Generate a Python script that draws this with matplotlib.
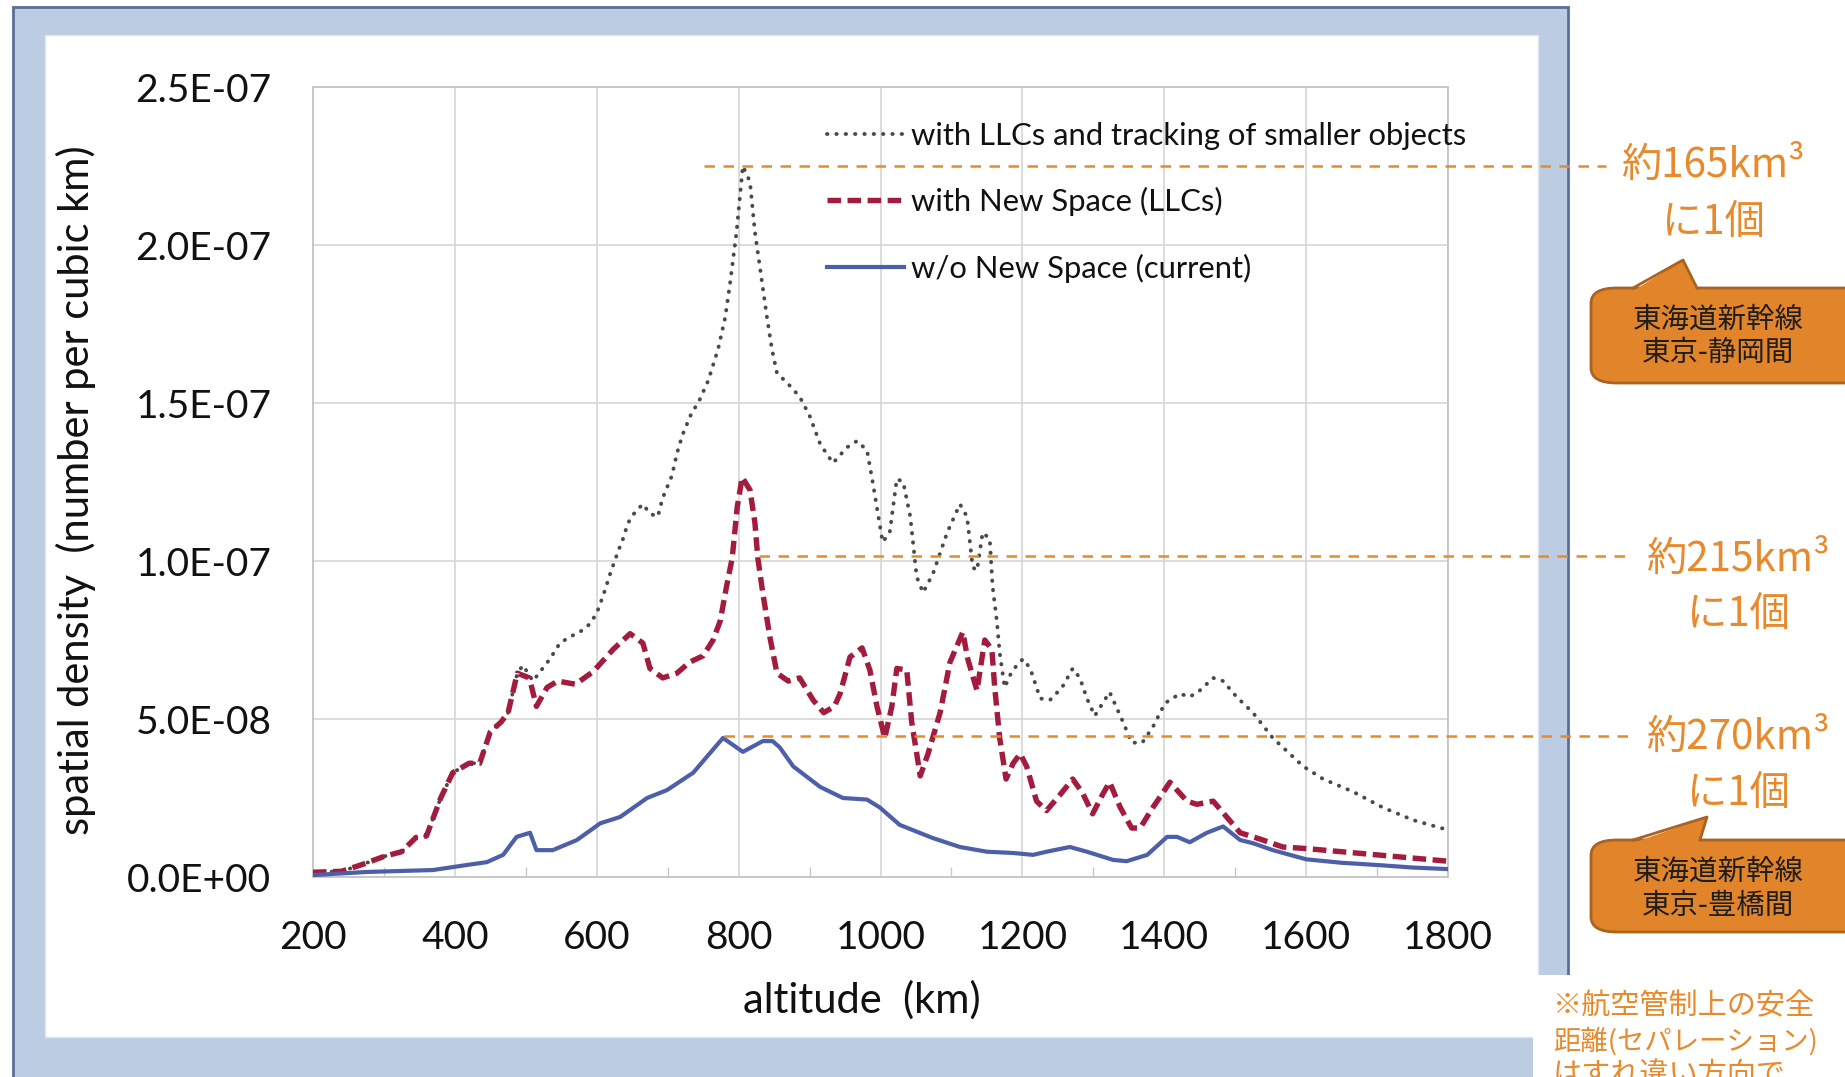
import matplotlib
matplotlib.use("Agg")
import matplotlib.pyplot as plt
from matplotlib.patches import Rectangle, FancyBboxPatch, Polygon
from matplotlib.lines import Line2D
import matplotlib.transforms as mtransforms

# ---- data (altitude km, spatial density in units of 1e-8 per km^3) ----
alt_new = [200, 240, 270, 300, 325, 345, 360, 370, 380, 397, 420, 435, 450, 465, 475, 488,
           505, 515, 530, 545, 570, 595, 623, 647, 665, 675, 693, 713, 731, 750, 764, 774,
           783, 791, 798, 805, 816, 823, 827, 834, 844, 854, 870, 886, 905, 920, 935, 943,
           957, 974, 985, 995, 1006, 1016, 1023, 1037, 1044, 1056, 1067, 1084, 1098, 1116,
           1123, 1136, 1147, 1157, 1161, 1168, 1177, 1187, 1197, 1206, 1220, 1234, 1253,
           1271, 1285, 1299, 1314, 1323, 1338, 1354, 1366, 1384, 1408, 1432, 1446, 1469,
           1488, 1507, 1535, 1567, 1600, 1650, 1700, 1750, 1800]
dens_new = [0.15, 0.18, 0.4, 0.65, 0.8, 1.25, 1.3, 1.9, 2.5, 3.3, 3.6, 3.6, 4.6, 4.9, 5.2, 6.45,
            6.3, 5.4, 6.0, 6.2, 6.1, 6.5, 7.2, 7.7, 7.4, 6.6, 6.3, 6.45, 6.8, 7.0, 7.5, 8.1,
            9.2, 10.1, 11.7, 12.65, 12.25, 11.2, 10.1, 9.0, 7.6, 6.45, 6.2, 6.3, 5.6, 5.2, 5.4, 5.8,
            6.96, 7.25, 6.55, 5.4, 4.4, 5.4, 6.6, 6.55, 4.9, 3.2, 3.9, 5.2, 6.8, 7.75,
            6.9, 5.9, 7.5, 7.2, 6.0, 4.4, 3.1, 3.6, 3.9, 3.5, 2.4, 2.1, 2.6,
            3.1, 2.65, 2.0, 2.65, 3.0, 2.2, 1.55, 1.55, 2.2, 3.0, 2.4, 2.3, 2.4,
            1.9, 1.4, 1.2, 0.95, 0.9, 0.8, 0.7, 0.6, 0.5]

alt_track = [200, 240, 270, 300, 325, 345, 360, 370, 380, 397, 420, 435, 450, 465, 475, 488,
             496, 510, 534, 548, 562, 576, 590, 600, 609, 619, 630, 637, 644, 654, 665, 675,
             686, 693, 706, 713, 721, 734, 743, 757, 771, 781, 788, 797, 806, 816, 823, 830,
             840, 847, 854, 870, 886, 900, 915, 933, 953, 967, 981, 989, 1003, 1013, 1023,
             1032, 1042, 1051, 1060, 1074, 1094, 1112, 1122, 1130, 1136, 1144, 1154, 1158,
             1164, 1168, 1175, 1183, 1192, 1201, 1211, 1220, 1225, 1239, 1256, 1271, 1281,
             1291, 1302, 1309, 1323, 1330, 1342, 1354, 1369, 1384, 1401, 1422, 1436, 1450,
             1469, 1483, 1502, 1525, 1553, 1596, 1624, 1666, 1708, 1751, 1798]
dens_track = [0.15, 0.18, 0.4, 0.65, 0.8, 1.25, 1.3, 1.9, 2.5, 3.3, 3.6, 3.6, 4.6, 4.9, 5.2, 6.45,
              6.7, 6.2, 6.9, 7.4, 7.6, 7.75, 8.0, 8.35, 8.9, 9.6, 10.3, 10.7, 11.2, 11.55, 11.8, 11.5,
              11.4, 12.0, 12.7, 13.4, 14.0, 14.7, 15.0, 15.7, 16.7, 17.7, 18.8, 20.4, 22.5, 22.0, 20.4, 19.3,
              17.7, 16.7, 15.95, 15.6, 15.2, 14.6, 13.7, 13.1, 13.6, 13.8, 13.5, 12.5, 10.6, 10.9, 12.6,
              12.5, 11.4, 9.5, 9.0, 9.6, 10.9, 11.8, 11.4, 9.8, 9.7, 10.9, 10.7, 9.2,
              8.1, 7.1, 6.0, 6.4, 6.7, 6.9, 6.6, 6.0, 5.65, 5.6, 6.0, 6.6, 6.3,
              5.65, 5.1, 5.35, 5.85, 5.5, 4.9, 4.25, 4.25, 4.75, 5.5, 5.8, 5.7, 5.9,
              6.3, 6.2, 5.7, 5.2, 4.4, 3.5, 3.1, 2.7, 2.2, 1.8, 1.5]

alt_cur = [200, 276, 369, 417, 445, 468, 487, 506, 515, 538, 572, 605, 633, 671, 699, 736, 755,
           778, 806, 834, 848, 858, 877, 915, 947, 981, 999, 1027, 1074, 1112, 1150, 1187, 1215,
           1234, 1267, 1291, 1328, 1347, 1376, 1404, 1418, 1436, 1460, 1483, 1507, 1525, 1553,
           1600, 1650, 1700, 1750, 1800]
dens_cur = [0.06, 0.16, 0.22, 0.38, 0.47, 0.7, 1.27, 1.4, 0.85, 0.85, 1.17, 1.7, 1.9, 2.5, 2.75, 3.3, 3.8,
            4.4, 3.96, 4.3, 4.3, 4.1, 3.5, 2.85, 2.5, 2.45, 2.2, 1.65, 1.23, 0.95, 0.8, 0.76, 0.7,
            0.8, 0.95, 0.8, 0.54, 0.5, 0.7, 1.27, 1.27, 1.1, 1.4, 1.6, 1.17, 1.07, 0.85,
            0.56, 0.45, 0.38, 0.3, 0.25]

series_labels = ["with LLCs and tracking of smaller objects",
                 "with New Space (LLCs)",
                 "w/o New Space (current)"]

x_ticks = [200, 400, 600, 800, 1000, 1200, 1400, 1600, 1800]
y_ticks = [0, 5e-8, 1e-7, 1.5e-7, 2e-7, 2.5e-7]
y_tick_labels = ["0.0E+00", "5.0E-08", "1.0E-07", "1.5E-07", "2.0E-07", "2.5E-07"]

# reference levels (1 object per X km^3) and their notes
ref_levels = [2.25e-7, 1.015e-7, 4.45e-8]
ref_notes = [("約165km³", "に1個"), ("約215km³", "に1個"), ("約270km³", "に1個")]
callout_texts = [("東海道新幹線", "東京-静岡間"), ("東海道新幹線", "東京-豊橋間")]
footnote = ["※航空管制上の安全", "距離(セパレーション)", "はすれ違い方向で"]

W, H = 1845, 1077
def fx(x):
    return x / W
def fy(y):
    return 1 - y / H

jp = ['Noto Sans CJK JP', 'DejaVu Sans']
lat = ['Lato', 'DejaVu Sans']
orange = '#e8892b'

fig = plt.figure(figsize=(W / 100, H / 100), dpi=100)
fig.patch.set_facecolor('white')

# slide frame around the chart
fig.add_artist(Rectangle((fx(13), fy(1090)), fx(1568) - fx(13), fy(7) - fy(1090),
                         facecolor='#bccde3', edgecolor='#5b6e99', lw=2, zorder=-2))
fig.add_artist(Rectangle((fx(45), fy(1037)), fx(1538) - fx(45), fy(35) - fy(1037),
                         facecolor='white', edgecolor='#dce4ef', lw=1, zorder=-1))

ax = fig.add_axes([fx(313), fy(877), fx(1448) - fx(313), fy(87) - fy(877)])
ax.set_zorder(1)
ax.set_facecolor('white')

to_abs = lambda v: [d * 1e-8 for d in v]
l1, = ax.plot(alt_track, to_abs(dens_track), color='#4a4a4a', lw=2.8,
              linestyle=(0, (0.1, 2.3)), dash_capstyle='round', zorder=3)
l2, = ax.plot(alt_new, to_abs(dens_new), color='#a31c3e', lw=3.9,
              linestyle=(0, (2.5, 1.2)), zorder=4)
l3, = ax.plot(alt_cur, to_abs(dens_cur), color='#4d5fa8', lw=3.0, zorder=5)

ax.set_xlim(200, 1800)
ax.set_ylim(0, 2.5e-7)
ax.set_xticks(x_ticks)
ax.set_xticklabels([str(t) for t in x_ticks])
ax.set_yticks(y_ticks)
ax.set_yticklabels(y_tick_labels)
ax.set_xticks(range(300, 1800, 200), minor=True)
ax.tick_params(which='major', length=0, labelsize=28, colors='#111111')
ax.tick_params(axis='x', which='major', pad=31)
ax.tick_params(axis='y', which='major', pad=30)
ax.tick_params(which='minor', direction='in', length=7, color='#c8c8c8', width=1)
for lab in ax.get_xticklabels() + ax.get_yticklabels():
    lab.set_fontfamily(lat)
ax.grid(True, which='major', color='#d9d9d9', lw=1.3)
ax.set_axisbelow(True)
for s in ax.spines.values():
    s.set_color('#c4c4c4')
    s.set_linewidth(1.3)

fig.text(fx(862), fy(1000), "altitude  (km)", fontsize=30, family=lat,
         ha='center', va='center', color='#111111')
fig.text(fx(76), fy(490), "spatial density  (number per cubic km)", fontsize=30,
         family=lat, ha='center', va='center', rotation=90, color='#111111')

leg = ax.legend([l1, l2, l3], series_labels, loc='upper left',
                bbox_to_anchor=(fx(827), fy(122)), bbox_transform=fig.transFigure,
                frameon=False, prop={'family': lat, 'size': 22.3},
                handlelength=2.5, handletextpad=0.2, labelspacing=1.2,
                borderaxespad=0, borderpad=0)
for t in leg.get_texts():
    t.set_color('#111111')

# dashed reference lines: x in figure space, y in data space
blend = mtransforms.blended_transform_factory(fig.transFigure, ax.transData)
ref_x = [(704, 1606), (759, 1630), (724, 1630)]
for lev, (x0, x1) in zip(ref_levels, ref_x):
    fig.add_artist(Line2D([fx(x0), fx(x1)], [lev, lev], transform=blend, color=orange,
                          lw=1.8, linestyle=(0, (4.2, 3.4)), zorder=6, clip_on=False))

note_pos = [(1713, 165, 222), (1738, 559, 614), (1738, 737, 793)]
for (a, b), (cx, y1, y2) in zip(ref_notes, note_pos):
    fig.text(fx(cx), fy(y1), a, fontsize=29, family=jp, color=orange,
             ha='center', va='center')
    fig.text(fx(cx), fy(y2), b, fontsize=29, family=jp, color=orange,
             ha='center', va='center')

# orange speech-bubble callouts
box_fill, box_edge = '#e2842a', '#a9621f'
callouts = [((288, 383), (1633, 1697, 1683, 260), (320, 353)),
            ((840, 932), (1633, 1700, 1707, 817), (872, 906))]
for ((top, bot), (bx0, bx1, apx, apy), (t1, t2)), (s1, s2) in zip(callouts, callout_texts):
    fig.add_artist(FancyBboxPatch((fx(1591), fy(bot)), fx(1870) - fx(1591), fy(top) - fy(bot),
                                  boxstyle='round,pad=0,rounding_size=0.014',
                                  facecolor=box_fill, edgecolor=box_edge, lw=2, zorder=7))
    fig.add_artist(Polygon([(fx(bx0), fy(top + 3)), (fx(apx), fy(apy)), (fx(bx1), fy(top + 3))],
                           closed=True, facecolor=box_fill, edgecolor='none', zorder=8))
    fig.add_artist(Line2D([fx(bx0), fx(apx), fx(bx1)], [fy(top), fy(apy), fy(top)],
                          color=box_edge, lw=2, zorder=8))
    fig.text(fx(1718), fy(t1), s1, fontsize=20.5, family=jp, color='#1e1e1e',
             ha='center', va='center', zorder=9)
    fig.text(fx(1718), fy(t2), s2, fontsize=20.5, family=jp, color='#1e1e1e',
             ha='center', va='center', zorder=9)

# footnote box in the lower right corner (last line is cut by the page edge)
fig.add_artist(Rectangle((fx(1533), fy(1090)), fx(1850) - fx(1533), fy(975) - fy(1090),
                         facecolor='white', edgecolor='none', zorder=10))
foot_sizes = [21, 19.7, 21]
for i, (line, fs) in enumerate(zip(footnote, foot_sizes)):
    fig.text(fx(1553), fy(1006 + 35 * i), line, fontsize=fs, family=jp, color=orange,
             ha='left', va='center', zorder=11)

fig.savefig("out.png", dpi=100)
